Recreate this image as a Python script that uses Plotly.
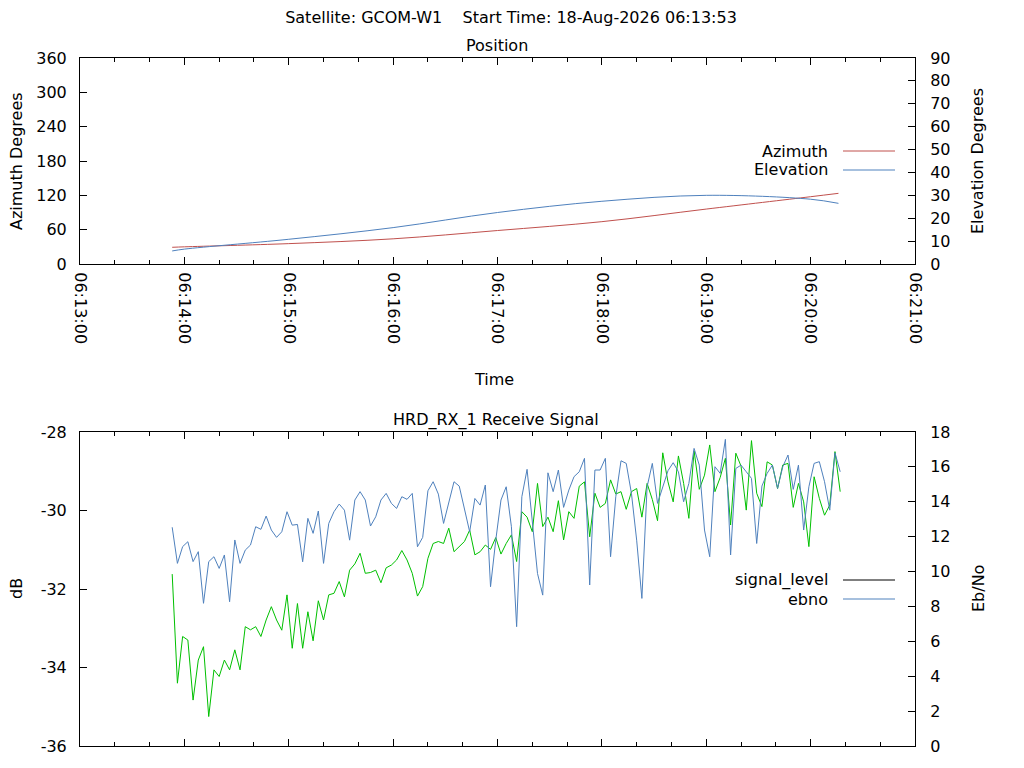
import pandas as pd
import plotly.graph_objects as go
from plotly.subplots import make_subplots

# pass start and plot window
pass_day = "2026-08-18"
start_time = "06:13:53"
x_start = pd.Timestamp(f"{pass_day} 06:13:00")
x_end = pd.Timestamp(f"{pass_day} 06:21:00")

# antenna position, seconds after 06:13:00
pos_sec = [53, 60, 120, 180, 240, 300, 360, 420, 436]
azimuth = [29.2, 30.0, 35.6, 44.0, 58.5, 74.0, 96.0, 117.6, 123.5]
elevation = [5.7, 6.5, 10.8, 15.9, 22.5, 27.4, 30.0, 28.3, 26.5]

# receiver samples, every 3 s from 06:13:53
sig_sec = list(range(53, 438, 3))
ebno = [
    12.54, 10.47, 11.43, 11.71, 10.57, 11.14, 8.18, 10.57, 10.85, 10.18, 10.95,
    8.27, 11.81, 10.47, 11.23, 11.52, 12.57, 12.42, 13.18, 12.38, 11.96,
    12.28, 13.43, 12.66, 12.70, 10.56, 13.05, 12.19, 13.47, 10.47, 12.76, 13.43,
    13.87, 13.52, 11.80, 14.10, 14.58, 14.10, 12.61, 13.14, 14.10, 14.48, 13.91,
    13.62, 14.29, 14.14, 14.48, 11.42, 11.96, 14.63, 15.15, 14.44, 12.76, 13.91,
    15.15, 14.90, 13.52, 12.28, 14.19, 13.81, 14.96, 9.13, 11.80, 14.10, 14.86,
    12.57, 6.84, 14.29, 15.86, 12.76, 9.89, 8.65, 15.66, 14.58, 15.82, 13.68,
    14.67, 15.44, 15.72, 16.49, 9.23, 15.82, 15.82, 16.49, 10.85, 14.29,
    16.35, 16.20, 14.48, 11.80, 8.46, 14.86, 16.20, 13.91, 14.86, 15.78, 16.24,
    15.72, 14.00, 15.05, 17.06, 16.10, 12.38, 10.85, 16.01, 15.63, 17.58, 10.95,
    15.91, 16.10, 15.72, 15.34, 11.61, 14.90, 15.63, 16.10, 14.77, 16.01, 16.68,
    14.71, 16.10, 12.38, 14.86, 16.20, 16.30, 15.15, 13.52, 16.81, 15.72,
]
signal_level = [
    -31.62, -34.40, -33.21, -33.30, -34.83, -33.81, -33.47, -35.25, -34.06, -34.23, -33.81,
    -34.06, -33.55, -34.06, -32.96, -33.04, -32.96, -33.21, -32.79, -32.45, -32.79,
    -33.05, -32.15, -33.51, -32.37, -33.51, -32.58, -33.32, -32.30, -32.79, -32.15, -32.11,
    -31.81, -32.20, -31.52, -31.36, -31.09, -31.60, -31.58, -31.52, -31.84, -31.46, -31.39,
    -31.26, -31.02, -31.26, -31.60, -32.18, -31.94, -31.22, -30.84, -30.79, -30.84, -30.45,
    -31.05, -30.92, -30.79, -30.50, -31.13, -31.05, -30.88, -30.99, -30.69, -31.11, -30.84,
    -30.62, -31.30, -30.03, -30.17, -30.54, -29.31, -30.41, -30.17, -30.54, -29.75, -30.75,
    -30.03, -30.20, -29.38, -29.27, -30.67, -29.56, -29.92, -29.82, -29.22, -29.58,
    -29.52, -29.97, -29.52, -29.44, -30.17, -29.31, -29.72, -30.26, -28.53, -29.27, -29.78,
    -28.61, -29.31, -30.20, -28.48, -29.46, -29.10, -28.33, -29.52, -29.16, -28.67, -30.37,
    -28.54, -28.87, -29.99, -28.22, -29.56, -29.90, -28.76, -28.84, -29.44, -28.84, -28.80,
    -29.92, -29.31, -29.78, -30.92, -29.14, -29.69, -30.12, -29.86, -28.50, -29.52,
]
db_ticks = [-36, -34, -32, -30, -28]

RED = "#c0504d"
BLUE = "#4f81bd"
GREEN = "#00c000"
FONT = "DejaVu Sans"
FS = 16

pos_time = x_start + pd.to_timedelta(pos_sec, unit="s")
sig_time = x_start + pd.to_timedelta(sig_sec, unit="s")

fig = make_subplots(rows=2, cols=1, specs=[[{"secondary_y": True}], [{"secondary_y": True}]])

fig.add_trace(go.Scatter(x=pos_time, y=azimuth, mode="lines", name="Azimuth",
                         line=dict(color=RED, width=1, shape="spline")), row=1, col=1, secondary_y=False)
fig.add_trace(go.Scatter(x=pos_time, y=elevation, mode="lines", name="Elevation",
                         line=dict(color=BLUE, width=1, shape="spline")), row=1, col=1, secondary_y=True)
fig.add_trace(go.Scatter(x=sig_time, y=signal_level, mode="lines", name="signal_level",
                         line=dict(color=GREEN, width=1)), row=2, col=1, secondary_y=False)
fig.add_trace(go.Scatter(x=sig_time, y=ebno, mode="lines", name="ebno",
                         line=dict(color=BLUE, width=1)), row=2, col=1, secondary_y=True)

# page body has an 8px margin, so the figure is drawn smaller and positions
# below are given in window pixels and shifted back by OFF
OFF = 8
W, H = 1024 - 2 * OFF, 768 - 2 * OFF
box_l, box_r, box_t, box_b = 80, 915, 58, 746   # window pixels
L, T = box_l - OFF, box_t - OFF
R, B = W - (box_r - OFF), H - (box_b - OFF)
pw, ph = W - L - R, H - T - B


def px(x):
    return (x - box_l) / pw


def py(y):
    return (box_b - y) / ph


xcommon = dict(range=[x_start, x_end], dtick=60000, tickformat="%H:%M:%S",
               ticks="inside", ticklen=7, tickcolor="black", showline=True,
               linecolor="black", linewidth=1, mirror="ticks", showgrid=False,
               zeroline=False,
               minor=dict(dtick=20000, ticks="inside", ticklen=4, tickcolor="black", showgrid=False))
ycommon = dict(ticks="inside", ticklen=7, tickcolor="black", showline=True,
               linecolor="black", linewidth=1, showgrid=False, zeroline=False)

fig.update_layout(
    xaxis=dict(xcommon, domain=[0, 1], tickangle=90, ticklabelstandoff=4),
    xaxis2=dict(xcommon, domain=[0, 1], showticklabels=False),
    yaxis=dict(ycommon, domain=[py(264), 1], range=[0, 360], dtick=60, ticklabelstandoff=9),
    yaxis2=dict(ycommon, range=[0, 90], dtick=10, ticklabelstandoff=11),
    yaxis3=dict(ycommon, domain=[0, py(432)], range=[-36, -28], tickvals=db_ticks,
                ticktext=[str(v) for v in db_ticks], ticklabelstandoff=9),
    yaxis4=dict(ycommon, range=[0, 18], dtick=2, ticklabelstandoff=11),
)

nb = "\u00a0" * 4
fig.update_layout(
    width=W, height=H,
    margin=dict(l=L, r=R, t=T, b=B, autoexpand=False),
    paper_bgcolor="white", plot_bgcolor="white",
    font=dict(family=FONT, size=FS, color="black"),
    showlegend=False,
    title=dict(text=f"Satellite: GCOM-W1{nb}Start Time: 18-Aug-{pass_day[:4]} {start_time}",
               x=px(511), xref="paper", y=1 - (17 - OFF) / H, yref="container",
               yanchor="middle", xanchor="center",
               font=dict(family=FONT, size=FS, color="black")),
)

texts = [
    ("Position", px(497), py(46), 0, "center"),
    ("HRD_RX_1 Receive Signal", px(496), py(420), 0, "center"),
    ("Time", px(494), py(379), 0, "center"),
    ("Azimuth Degrees", px(16), py(161), -90, "center"),
    ("Elevation Degrees", px(977), py(161), -90, "center"),
    ("dB", px(16), py(589), -90, "center"),
    ("Eb/No", px(978), py(589), -90, "center"),
    ("Azimuth", px(830), py(151), 0, "right"),
    ("Elevation", px(830), py(170), 0, "right"),
    ("signal_level", px(830), py(580), 0, "right"),
    ("ebno", px(830), py(599), 0, "right"),
]
for txt, ax, ay, ang, anchor in texts:
    fig.add_annotation(text=txt, x=ax, y=ay, xref="paper", yref="paper", showarrow=False,
                       textangle=ang, xanchor=anchor, yanchor="middle",
                       font=dict(family=FONT, size=FS, color="black"))

# key samples drawn gnuplot-style to the right of the labels
for ky, kc in [(151, RED), (170, BLUE), (580, "black"), (599, BLUE)]:
    fig.add_shape(type="line", xref="paper", yref="paper", x0=px(843), x1=px(895),
                  y0=py(ky), y1=py(ky), line=dict(color=kc, width=1))

fig.write_html("out.html")
